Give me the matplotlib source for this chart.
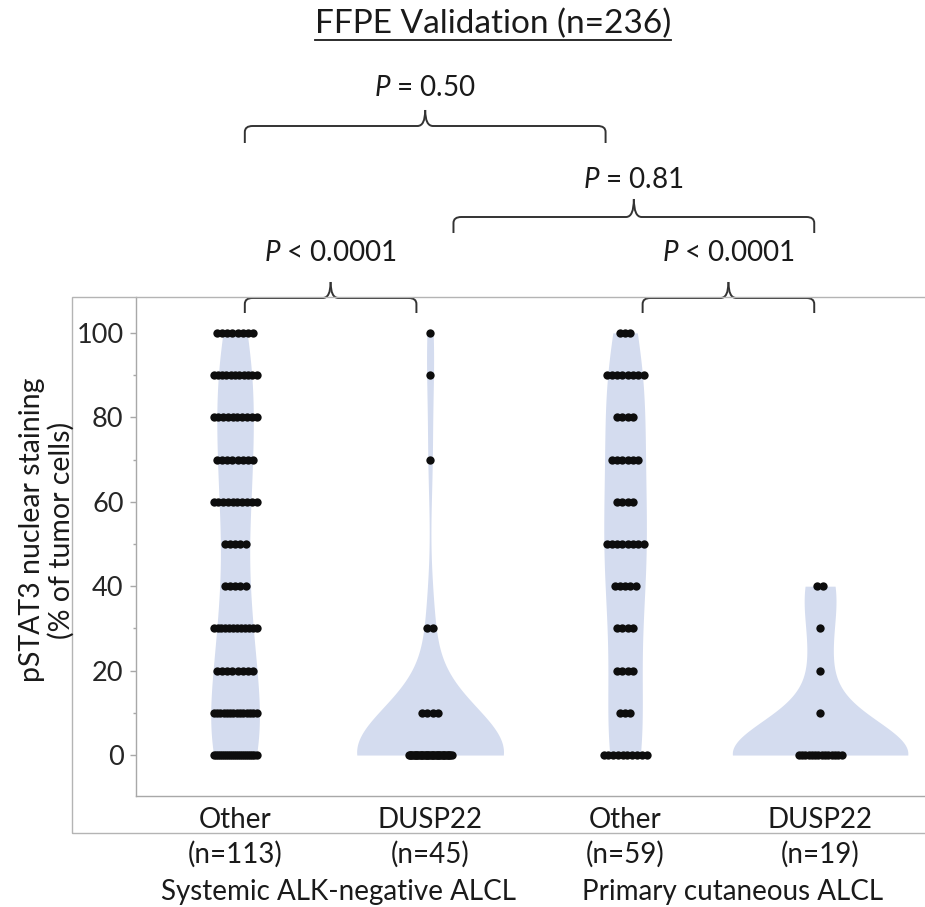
import numpy as np
import matplotlib
matplotlib.use("Agg")
import matplotlib.pyplot as plt
from matplotlib.path import Path
from matplotlib.patches import PathPatch, Rectangle
from matplotlib.lines import Line2D

plt.rcParams['font.family'] = ['Lato', 'DejaVu Sans']
plt.rcParams['mathtext.fontset'] = 'custom'
plt.rcParams['mathtext.it'] = 'Lato:italic'
plt.rcParams['mathtext.rm'] = 'Lato'

# ---------------- data ----------------
levels = [0, 10, 20, 30, 40, 50, 60, 70, 80, 90, 100]
subtypes = ["Other", "DUSP22", "Other", "DUSP22"]
n_labels = ["(n=113)", "(n=45)", "(n=59)", "(n=19)"]
diseases = ["Systemic ALK-negative ALCL", "Primary cutaneous ALCL"]
# counts of cases at each staining level (0..100 by 10)
counts_sys_other = [22, 14, 8, 12, 5, 5, 10, 8, 10, 11, 8]
counts_sys_dusp = [36, 4, 0, 2, 0, 0, 0, 1, 0, 1, 1]
counts_cut_other = [10, 3, 4, 4, 5, 8, 4, 6, 4, 8, 3]
counts_cut_dusp = [14, 1, 1, 1, 2, 0, 0, 0, 0, 0, 0]
all_counts = [counts_sys_other, counts_sys_dusp, counts_cut_other, counts_cut_dusp]
pvals = ["$P$ < 0.0001", "$P$ < 0.0001", "$P$ = 0.50", "$P$ = 0.81"]
title = "FFPE Validation (n=236)"

# ---------------- figure ----------------
W, H = 925, 907
fig = plt.figure(figsize=(W / 100, H / 100), dpi=100)
ax = fig.add_axes([136 / W, 1 - 796 / H, 1 - 136 / W, (796 - 297) / H])
ax.set_xlim(-0.508, 3.538)
ax.set_ylim(-9.7, 108.5)

fill_col = '#d4dcef'
dot_col = '#0d0d0d'
txt_col = '#1a1a1a'
grey = '#a8a8a8'
fs = 20

# violins (gaussian KDE, scott bw, cut=0, area scaling)
dens_list = []
for cnt in all_counts:
    vals = np.repeat(levels, cnt).astype(float)
    n = len(vals)
    bw = vals.std(ddof=1) * n ** (-1 / 5)
    grid = np.linspace(vals.min(), vals.max(), 300)
    dens = np.exp(-0.5 * ((grid[:, None] - vals[None, :]) / bw) ** 2).sum(1) / (n * bw * np.sqrt(2 * np.pi))
    dens_list.append((grid, dens))
dmax = max(d.max() for g, d in dens_list)
half_w = 0.45
for i, (g, d) in enumerate(dens_list):
    w = d / dmax * half_w
    ax.fill_betweenx(g, i - w, i + w, color=fill_col, lw=0, zorder=1)

# dots
sp = 0.027
cap = 0.22
for i, cnt in enumerate(all_counts):
    for lev, c in zip(levels, cnt):
        if c == 0:
            continue
        width = min((c - 1) * sp, cap)
        offs = np.linspace(-width / 2, width / 2, c) if c > 1 else np.array([0.0])
        ax.scatter(i + offs, np.full(c, lev), s=36, color=dot_col, lw=0, zorder=3)

# axes styling
for s in ['top', 'right']:
    ax.spines[s].set_visible(False)
for s in ['left', 'bottom']:
    ax.spines[s].set_color(grey)
    ax.spines[s].set_linewidth(1)
ax.set_xticks([])
ax.set_yticks([0, 20, 40, 60, 80, 100])
ax.set_yticks([10, 30, 50, 70, 90], minor=True)
ax.tick_params(axis='y', which='major', length=4, width=1, color=grey, pad=5,
               labelsize=19.5, labelcolor='#262626')
ax.tick_params(axis='y', which='minor', length=2.5, width=1, color=grey)

# outer frame
fig.add_artist(Rectangle((72 / W, 1 - 833 / H), 1.0, (833 - 297) / H, transform=fig.transFigure,
                         fill=False, edgecolor='#b4b4b4', lw=1, clip_on=False))


def ypx(p):
    # figure-pixel y -> axes fraction
    return (796 - p) / (796 - 297)


tr = ax.get_xaxis_transform()
for i in range(4):
    ax.text(i, ypx(820), subtypes[i], transform=tr, ha='center', va='center',
            fontsize=fs, color=txt_col, clip_on=False)
    ax.text(i, ypx(854), n_labels[i], transform=tr, ha='center', va='center',
            fontsize=fs, color=txt_col, clip_on=False)
ax.text(0.53, ypx(892), diseases[0], transform=tr, ha='center', va='center',
        fontsize=fs, color=txt_col, clip_on=False)
ax.text(2.55, ypx(892), diseases[1], transform=tr, ha='center', va='center',
        fontsize=fs, color=txt_col, clip_on=False)

# y label
fig.text(47 / W, 1 - 530 / H, "pSTAT3 nuclear staining\n(% of tumor cells)", rotation=90,
         ha='center', va='center', fontsize=20.5, color=txt_col, linespacing=1.15,
         multialignment='center')


# brackets (x in data units, y in figure pixels)
def bracket(x0, x1, y_line, drop, rise, label, ylab):
    xc = (x0 + x1) / 2
    yl, yd, yr = ypx(y_line), ypx(y_line + drop), ypx(y_line - rise)
    r = 0.04
    rv = ypx(y_line) - ypx(y_line + 6)
    left = Path([(x0, yd), (x0, yl - rv), (x0, yl), (x0 + r, yl), (xc - r, yl), (xc, yl), (xc, yr)],
                [Path.MOVETO, Path.LINETO, Path.CURVE3, Path.CURVE3, Path.LINETO, Path.CURVE3, Path.CURVE3])
    right = Path([(x1, yd), (x1, yl - rv), (x1, yl), (x1 - r, yl), (xc + r, yl), (xc, yl), (xc, yr)],
                 [Path.MOVETO, Path.LINETO, Path.CURVE3, Path.CURVE3, Path.LINETO, Path.CURVE3, Path.CURVE3])
    for p in (left, right):
        ax.add_patch(PathPatch(p, transform=tr, fill=False, edgecolor='#333333', lw=1.4, clip_on=False))
    ax.text(xc, ypx(ylab), label, transform=tr, ha='center', va='center', fontsize=fs,
            color=txt_col, clip_on=False)


bracket(0.05, 0.93, 298, 15, 16, pvals[0], 253)
bracket(2.09, 2.97, 298, 15, 16, pvals[1], 253)
bracket(0.05, 1.90, 126, 17, 16, pvals[2], 88)
bracket(1.12, 2.97, 217, 16, 18, pvals[3], 180)

# title with underline
tt = fig.text(493 / W, 1 - 24 / H, title, ha='center', va='center', fontsize=24, color=txt_col)
fig.canvas.draw()
bb = tt.get_window_extent()
fig.add_artist(Line2D([bb.x0 / W, bb.x1 / W], [(H - 40) / H, (H - 40) / H], transform=fig.transFigure,
                      color=txt_col, lw=1.3))

fig.savefig("out.png", dpi=100)
